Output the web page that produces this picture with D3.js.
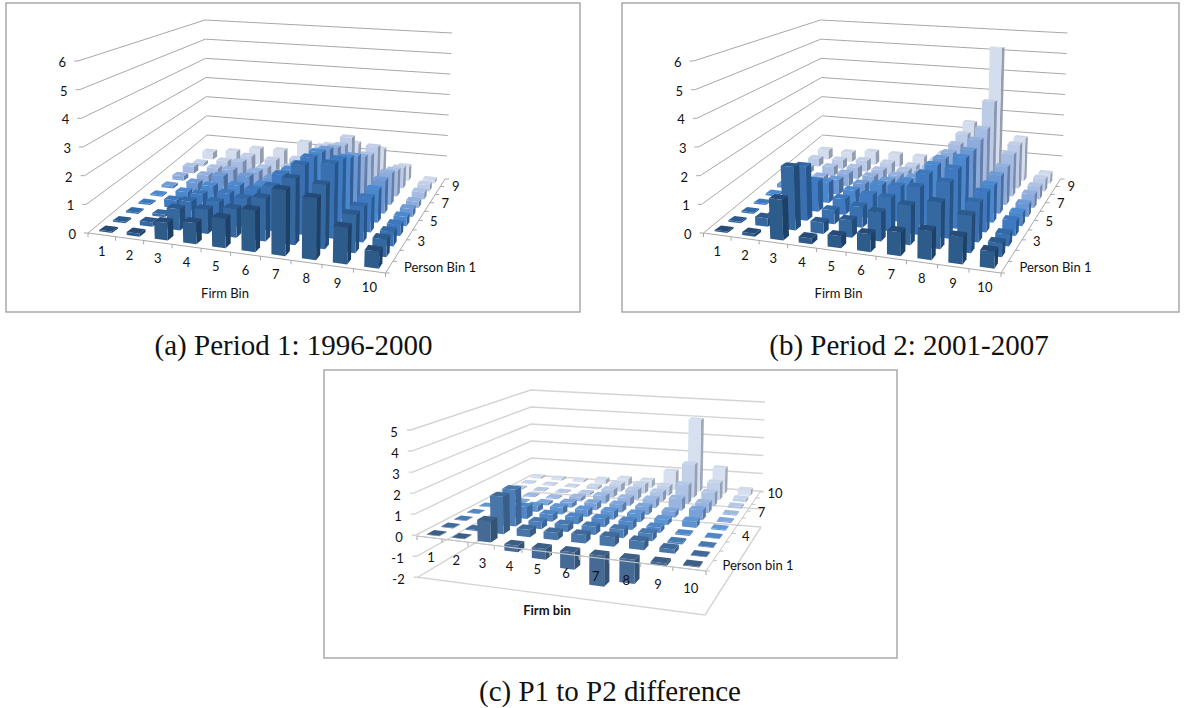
<!DOCTYPE html>
<html><head><meta charset="utf-8">
<script src="https://cdn.jsdelivr.net/npm/d3@7/dist/d3.min.js"></script>
<style>html,body{margin:0;padding:0;background:#fff}svg{display:block}</style>
</head><body><svg id="c" width="1187" height="708"></svg>
<script>
const firmBins=[1,2,3,4,5,6,7,8,9,10];
const personBins=[1,2,3,4,5,6,7,8,9,10];
const ticksAB=[0,1,2,3,4,5,6];
const ticksC=[-2,-1,0,1,2,3,4,5];
const personLabelsAB=[3,5,7,9];
const personLabelsC=[4,7,10];
// rows run from person bin 1 (front) to person bin 10 (back)
const valuesA=[
[.05,.1,.6,.72,1.0,1.4,2.2,2.05,1.2,.55],
[.05,.15,.75,.85,1.0,1.5,2.3,2.2,1.3,.6],
[.05,.1,.7,.8,1.05,1.6,2.5,2.65,1.25,.5],
[.05,.3,.65,.8,1.05,1.75,2.5,2.55,1.25,.4],
[.05,.3,.65,.8,.95,1.65,2.45,2.35,1.25,.35],
[.1,.35,.75,.85,.9,1.6,2.3,2.15,1.3,.3],
[.2,.35,.7,.75,.8,1.4,2.1,1.85,1.3,.25],
[.3,.35,.75,.6,.75,1.2,1.95,1.65,1.1,.3],
[.15,.35,.7,.65,.8,1.5,2.05,1.75,.9,.28],
[.35,.5,.75,.8,1.3,1.3,1.5,1.35,.65,.15]];
const valuesB=[
[.05,.1,1.4,.2,.4,.6,.8,.97,.9,.55],
[.05,.3,2.25,.4,.6,1.0,1.37,1.6,1.27,.47],
[.05,.1,2.0,.5,.75,1.2,1.7,2.0,1.4,.42],
[.05,.1,1.15,.6,.87,1.3,1.9,2.2,1.45,.55],
[.08,.15,.8,.6,.95,1.2,1.95,2.35,1.43,.5],
[.15,.2,.6,.55,.8,1.05,1.93,2.37,1.5,.5],
[.2,.3,.55,.55,.7,.95,1.9,2.55,1.55,.55],
[.25,.4,.5,.5,.6,.9,2.0,2.8,1.8,.55],
[.35,.4,.5,.5,.5,.9,2.2,3.8,1.97,.55],
[.45,.45,.6,.6,.6,.9,2.5,6.2,2.0,.45]];
const valuesC=[
[.03,.03,1.0,-.3,-.5,-.8,-1.4,-1.1,-.12,.03],
[.03,.05,1.8,.35,.35,.4,.45,.4,.2,.03],
[.03,.03,1.8,.35,.35,.4,.4,.35,.08,.03],
[.03,.05,.6,.35,.35,.4,.4,.25,.06,.03],
[.03,.05,.3,.35,.35,.4,.4,.25,.3,.05],
[.03,.05,.12,.25,.35,.4,.4,.3,.5,.05],
[.03,.05,.06,.2,.4,.4,.45,.6,.5,.05],
[.05,.05,.05,.1,.4,.5,.5,1.0,.7,.1],
[.05,.05,.05,.15,.4,.5,.5,1.8,.9,.15],
[.1,.1,.1,.25,.4,.4,1.0,4.0,1.4,.3]];

const frontColors=["#2f5b8a","#35679f","#3a70b0","#4079bf","#4c87cb","#6a97d3","#8dacdb","#a6bce2","#bccbe7","#d3ddee"];
const sideColors =["#1f3f66","#234b78","#27548a","#2b5c96","#335f9a","#4a6d9f","#667fa8","#7b8dab","#8a96ab","#959fb0"];
const topColors  =["#264c78","#2c5a8e","#336aa8","#3d78bf","#4c8ad0","#6f9cd6","#93b1de","#aec2e4","#c2cfe6","#cdd7e8"];

const svg=d3.select("#c");
const defs=svg.append("defs");
defs.append("filter").attr("id","soft").attr("x","-5%").attr("y","-5%").attr("width","110%").attr("height","110%")
  .append("feGaussianBlur").attr("stdDeviation",.45);

function homography(A,B,C,D){
  const dx1=B[0]-C[0],dx2=D[0]-C[0],sx=A[0]-B[0]+C[0]-D[0];
  const dy1=B[1]-C[1],dy2=D[1]-C[1],sy=A[1]-B[1]+C[1]-D[1];
  const det=dx1*dy2-dx2*dy1;
  const g=(sx*dy2-dx2*sy)/det,h=(dx1*sy-sx*dy1)/det;
  const a=B[0]-A[0]+g*B[0],b=D[0]-A[0]+h*D[0],c=A[0];
  const d=B[1]-A[1]+g*B[1],e=D[1]-A[1]+h*D[1],f=A[1];
  return (u,v)=>{const w=g*u+h*v+1;return[(a*u+b*v+c)/w,(d*u+e*v+f)/w];};
}
const bil=(q,u,v)=>q[0]*(1-u)*(1-v)+q[1]*u*(1-v)+q[2]*u*v+q[3]*(1-u)*v;

function drawPanel(p){
  const g=svg.append("g");
  g.append("rect").attr("x",p.frame[0]).attr("y",p.frame[1]).attr("width",p.frame[2]-p.frame[0]).attr("height",p.frame[3]-p.frame[1])
    .attr("fill","#fff").attr("stroke","#a3a3a3").attr("stroke-width",1.4);
  const H=homography(p.A,p.B,p.C,p.D);
  const fx=d3.scaleBand().domain(firmBins).range([0,1]).paddingInner(p.padU).paddingOuter(p.padU/2);
  const fy=d3.scaleBand().domain(personBins).range([0,1]).paddingInner(p.padV).paddingOuter(p.padV/2);
  const dom=d3.extent(p.ticks);
  const L=d3.scaleLinear().domain(dom).range(p.left);
  const BL=d3.scaleLinear().domain(dom).range(p.backLeft);
  const BR=d3.scaleLinear().domain(dom).range(p.backRight);
  const line=d3.line();
  const gl=g.append("g").attr("fill","none").attr("stroke",p.grid).attr("stroke-width",p.gridW);
  gl.selectAll("path.g").data(p.ticks).join("path").attr("class","g")
    .attr("d",t=>line([[L(t)[0]-4,L(t)[1]],L(t),BL(t),BR(t)]));
  gl.append("path").attr("d",line([L(dom[0]),L(dom[1])]));
  gl.append("path").attr("d",line([BL(dom[0]),BL(dom[1])]));
  if(p.floorLow) gl.append("path").attr("d",line(p.floorLow));
  const proj=(u,v,val)=>{
    const q=H(u,v);
    return [q[0]+val*bil(p.lean,u,v), q[1]-val*bil(p.unit,u,v)];
  };
  const ax=g.append("g").attr("fill","none").attr("stroke",p.axis).attr("stroke-width",1);
  ax.append("path").attr("d",line([p.A,p.B]));
  ax.append("path").attr("d",line([p.B,p.C]));
  const fs=d3.scaleLinear().domain([0,10]).range([0,1]);
  ax.selectAll("path.tu").data(d3.range(0,11)).join("path").attr("class","tu")
    .attr("d",i=>{const q=H(fs(i),0);return line([q,[q[0],q[1]+4]]);});
  ax.selectAll("path.tv").data(d3.range(0,11)).join("path").attr("class","tv")
    .attr("d",i=>{const q=H(1,fs(i));return line([q,[q[0]+4,q[1]]]);});

  const bars=[];
  d3.range(9,-1,-1).forEach(r=>{
    firmBins.forEach((f,c)=>{
      const val=p.values[r][c];
      bars.push({r,c,val,u0:fx(f),u1:fx(f)+fx.bandwidth(),v0:fy(personBins[r]),v1:fy(personBins[r])+fy.bandwidth()});
    });
  });
  const bg=g.append("g").attr("filter","url(#soft)");
  const faces=bg.selectAll("g").data(bars).join("g");
  const poly=pts=>line(pts)+"Z";
  const tint=c=>p.tint?d3.interpolateRgb(c,"#ffffff")(p.tint):c;
  faces.append("path").attr("fill",d=>tint(sideColors[d.r]))
    .attr("d",d=>{const hi=Math.max(d.val,0),lo=Math.min(d.val,0);
      return poly([proj(d.u1,d.v0,lo),proj(d.u1,d.v1,lo),proj(d.u1,d.v1,hi),proj(d.u1,d.v0,hi)]);});
  faces.append("path").attr("fill",d=>tint(frontColors[d.r]))
    .attr("d",d=>{const hi=Math.max(d.val,0),lo=Math.min(d.val,0);
      return poly([proj(d.u0,d.v0,lo),proj(d.u1,d.v0,lo),proj(d.u1,d.v0,hi),proj(d.u0,d.v0,hi)]);});
  faces.append("path").attr("fill",d=>tint(topColors[d.r]))
    .attr("d",d=>{const hi=Math.max(d.val,0);
      return poly([proj(d.u0,d.v0,hi),proj(d.u1,d.v0,hi),proj(d.u1,d.v1,hi),proj(d.u0,d.v1,hi)]);});

  if(p.axisOver){
    const o=g.append("g").attr("fill","none").attr("stroke",p.axis).attr("stroke-width",1.2);
    o.append("path").attr("d",line([p.A,p.B]));
    o.selectAll("path.tu").data(d3.range(0,11)).join("path").attr("class","tu")
      .attr("d",i=>{const q=H(fs(i),0);return line([q,[q[0],q[1]+4]]);});
  }

  const t=g.append("g").attr("font-family","Lato, Carlito, sans-serif").attr("font-size",p.fontSize).attr("fill","#111");
  t.selectAll("text.y").data(p.ticks).join("text").attr("class","y")
    .attr("x",d=>L(d)[0]-p.yOff[0]).attr("y",d=>L(d)[1]+p.yOff[1]).attr("text-anchor","end").text(d=>d);
  t.selectAll("text.f").data(firmBins).join("text").attr("class","f")
    .attr("x",d=>H(fs(d-.5),0)[0]+p.fOff[0]).attr("y",d=>H(fs(d-.5),0)[1]+p.fOff[1]).attr("text-anchor","middle").text(d=>d);
  t.selectAll("text.p").data(p.personLabels).join("text").attr("class","p")
    .attr("x",d=>H(1,fs(d-.5))[0]+p.pOff[0]).attr("y",d=>H(1,fs(d-.5))[1]+p.pOff[1]).attr("text-anchor","middle").text(d=>d);
  t.append("text").attr("x",p.firmTitle[0]).attr("y",p.firmTitle[1]).attr("text-anchor","middle")
    .attr("font-weight",p.firmBold?"bold":"normal").text(p.firmText);
  t.append("text").attr("x",p.personTitle[0]).attr("y",p.personTitle[1]).attr("text-anchor","middle").text(p.personText);
  svg.append("text").attr("x",p.caption[0]).attr("y",p.caption[1]).attr("text-anchor","middle")
    .attr("font-family","'Liberation Serif', serif").attr("font-size",29).attr("fill","#111").text(p.captionText);
}
const base={ticks:ticksAB,personLabels:personLabelsAB,grid:"#a8a8a8",gridW:1,axis:"#a8a8a8",fontSize:13,yOff:[12,6],fOff:[0,21],pOff:[18,1],firmText:"Firm Bin",personText:"Person Bin 1",
  padU:.54,padV:.54,unit:[28.7,31,20.5,19.5],lean:[-1.67,1,.83,-.33]};
drawPanel({...base,A:[88,233],B:[385.5,273],C:[445,179],D:[203,153],frame:[6,3,580,312],left:[[88,233],[78,61]],backLeft:[[207,135],[205,20]],backRight:[[447,156],[452,33]],values:valuesA,
  firmTitle:[225,298],personTitle:[440,272],caption:[293.5,355],captionText:"(a) Period 1: 1996-2000"});
const dx=615.5;
drawPanel({...base,A:[88+dx,233],B:[385.5+dx,273],C:[445+dx,179],D:[203+dx,153],frame:[622,3,1179,312],left:[[88+dx,233],[78+dx,61]],backLeft:[[207+dx,135],[205+dx,20]],backRight:[[447+dx,156],[452+dx,33]],values:valuesB,
  firmTitle:[838.5,298],personTitle:[440+dx,272],caption:[909,355],captionText:"(b) Period 2: 2001-2007"});
drawPanel({...base,ticks:ticksC,personLabels:personLabelsC,grid:"#d4d4d4",gridW:1.4,axis:"#c4c4c4",axisOver:true,tint:.1,padU:.5,padV:.48,
  A:[417,536],B:[706,571],C:[760,492],D:[532,474],frame:[324,370,897,658],
  left:[[417.7,577.3],[410.7,430]],backLeft:[[532,509],[530.7,390]],backRight:[[761,527],[765,402]],
  floorLow:[[417.7,577.3],[705,615],[761,527]],
  unit:[20.8,22.5,17.8,17],lean:[-.8,.5,.5,-.2],values:valuesC,
  fOff:[1.5,24],pOff:[17,3],yOff:[13,6.5],
  firmTitle:[547,615],firmBold:true,firmText:"Firm bin",personTitle:[758,570],personText:"Person bin 1",
  caption:[610,701],captionText:"(c) P1 to P2 difference"});
</script></body></html>
